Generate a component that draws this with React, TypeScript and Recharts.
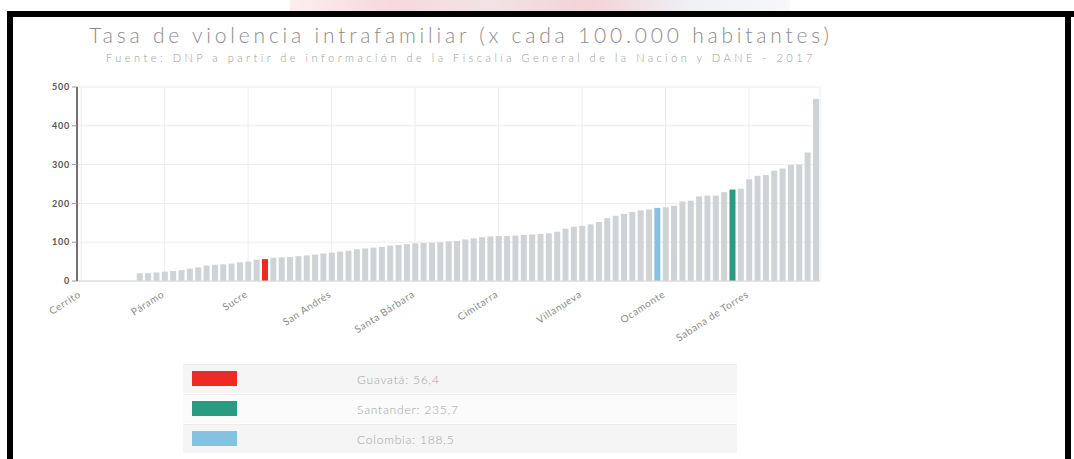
import React from "react";
import { BarChart, Bar, XAxis, YAxis, CartesianGrid, Cell } from "recharts";

// every 10th municipality (the only labels readable on the axis)
const tickNames = [
    "Cerrito",
    "Páramo",
    "Sucre",
    "San Andrés",
    "Santa Bárbara",
    "Cimitarra",
    "Villanueva",
    "Ocamonte",
    "Sabana de Torres",
];

// highlighted bars
const highlightNames = ["Guavatá", "Santander", "Colombia"];
const highlightIndex = [22, 78, 69];
const highlightColors = ["#ee2a24", "#2a9b80", "#85c1e3"];

// rate per 100.000 inhabitants, sorted ascending (89 bars)
const values = [
    0, 0, 0, 0, 0, 0, 0, 20, 20, 22,
    24, 26, 28, 32, 35, 40, 42, 43, 45, 48,
    50, 55, 56.4, 60, 61, 62, 64, 66, 68, 71,
    73, 76, 78, 82, 84, 86, 88, 91, 93, 95,
    97, 98, 99, 100, 102, 103, 107, 110, 113, 115,
    116, 116, 117, 119, 120, 121, 123, 127, 135, 140,
    142, 146, 152, 162, 168, 173, 178, 182, 184, 188.5,
    190, 194, 205, 207, 218, 220, 220, 229, 235.7, 238,
    262, 271, 273, 284, 290, 299, 300, 331, 469,
];

const yTicks = [0, 100, 200, 300, 400, 500];

const data = values.map((v, i) => {
    const h = highlightIndex.indexOf(i);
    let name = "";
    if (i % 10 === 0) name = tickNames[i / 10];
    else if (h >= 0) name = highlightNames[h];
    return { name, value: v, color: h >= 0 ? highlightColors[h] : "#cfd3d5" };
});

const font = "Lato, 'DejaVu Sans', sans-serif";

const XTick = (props: any) => {
    const { x, y, payload } = props;
    const tx = x - 3;
    const ty = y + 2;
    return (
        <text
            x={tx}
            y={ty}
            dy={6}
            transform={`rotate(-33, ${tx}, ${ty})`}
            textAnchor="end"
            fill="#8a8a8a"
            fontSize={10}
            fontFamily={font}
            letterSpacing={0.6}
        >
            {payload.value}
        </text>
    );
};

const App: React.FC = () => {
    return (
        <div
            style={{
                position: "absolute",
                left: 0,
                top: 0,
                width: 1074,
                height: 459,
                background: "#ffffff",
                overflow: "hidden",
                fontFamily: font,
            }}
        >
            {/* faded photo strip behind the top frame */}
            <div
                style={{
                    position: "absolute",
                    left: 290,
                    top: 0,
                    width: 500,
                    height: 11,
                    background:
                        "linear-gradient(90deg, #fbeff0 0%, #f6d9dc 20%, #f1e3e6 40%, #f3d3d6 60%, #eef0f6 80%, #f8f8fb 100%)",
                }}
            />
            {/* black frame */}
            <div style={{ position: "absolute", left: 7, top: 11, width: 1067, height: 6, background: "#000" }} />
            <div style={{ position: "absolute", left: 7, top: 11, width: 6, height: 448, background: "#000" }} />
            <div style={{ position: "absolute", left: 1065, top: 11, width: 6, height: 448, background: "#000" }} />

            <div
                style={{
                    position: "absolute",
                    left: 0,
                    top: 22,
                    width: 922,
                    textAlign: "center",
                    fontSize: 21,
                    fontWeight: 300,
                    color: "#8c8c8c",
                    letterSpacing: 3.8,
                }}
            >
                Tasa de violencia intrafamiliar (x cada 100.000 habitantes)
            </div>
            <div
                style={{
                    position: "absolute",
                    left: 0,
                    top: 51,
                    width: 922,
                    textAlign: "center",
                    fontSize: 11,
                    fontWeight: 300,
                    color: "#9a9a9a",
                    letterSpacing: 3.5,
                }}
            >
                Fuente: DNP a partir de información de la Fiscalía General de la Nación y DANE - 2017
            </div>

            <div style={{ position: "absolute", left: 0, top: 0 }}>
                <BarChart
                    width={840}
                    height={360}
                    data={data}
                    margin={{ top: 87, right: 20, left: 37, bottom: 19 }}
                    barCategoryGap="16%"
                >
                    <CartesianGrid stroke="#ececec" strokeWidth={1} />
                    <XAxis
                        dataKey="name"
                        interval={9}
                        height={60}
                        tick={<XTick />}
                        tickLine={false}
                        axisLine={{ stroke: "#d8d8d8" }}
                    />
                    <YAxis
                        width={40}
                        domain={[0, 500]}
                        ticks={yTicks}
                        tick={{ fill: "#555", fontSize: 9, fontWeight: 700, fontFamily: font, letterSpacing: 0.8 }}
                        tickLine={{ stroke: "#999" }}
                        tickSize={5}
                        axisLine={{ stroke: "#444", strokeWidth: 1.5 }}
                    />
                    <Bar dataKey="value" isAnimationActive={false}>
                        {data.map((d, i) => (
                            <Cell key={i} fill={d.color} />
                        ))}
                    </Bar>
                </BarChart>
            </div>

            {/* legend */}
            <div style={{ position: "absolute", left: 183, top: 364, width: 554 }}>
                {highlightNames.map((n, k) => (
                    <div
                        key={n}
                        style={{
                            height: 28,
                            marginBottom: 1,
                            background: k % 2 === 0 ? "#f5f5f5" : "#fbfbfb",
                            borderTop: "1px solid #ececec",
                            position: "relative",
                        }}
                    >
                        <div
                            style={{
                                position: "absolute",
                                left: 9,
                                top: 6,
                                width: 45,
                                height: 15,
                                background: highlightColors[k],
                            }}
                        />
                        <div
                            style={{
                                position: "absolute",
                                left: 174,
                                top: 7,
                                fontSize: 12,
                                fontWeight: 300,
                                color: "#a3a3a3",
                                letterSpacing: 0.8,
                            }}
                        >
                            {n}: {String(values[highlightIndex[k]]).replace(".", ",")}
                        </div>
                    </div>
                ))}
            </div>
        </div>
    );
};

export default App;
